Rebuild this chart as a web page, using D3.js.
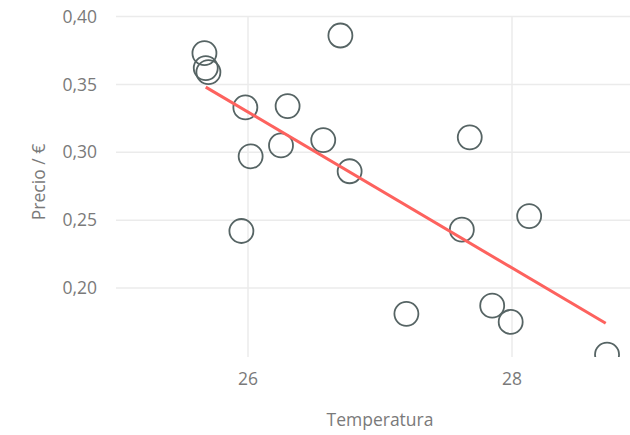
<!DOCTYPE html>
<html><head><meta charset="utf-8">
<script src="https://cdn.jsdelivr.net/npm/d3@7"></script>
<style>
html,body{margin:0;padding:0;background:#fff;}
text{font-family:"Segoe UI","Open Sans","Noto Sans",sans-serif;}
</style></head>
<body>
<svg id="c" width="630" height="435"></svg>
<script>
const temperatura = [25.67, 25.68, 25.70, 25.98, 26.30, 26.02, 26.25, 26.57, 26.70, 26.77, 25.95, 27.68, 27.62, 28.13, 27.20, 27.85, 27.99, 28.72];
const precio      = [0.373, 0.362, 0.359, 0.333, 0.334, 0.297, 0.305, 0.309, 0.386, 0.286, 0.242, 0.311, 0.243, 0.253, 0.181, 0.187, 0.175, 0.151];
const trendX = [25.68, 28.71];
const trendY = [0.348, 0.174];
const xTicks = [26, 28];
const yTicks = [0.20, 0.25, 0.30, 0.35, 0.40];
const xTitle = "Temperatura";
const yTitle = "Precio / €";

const svg = d3.select("#c");
const x = d3.scaleLinear().domain([25, 29]).range([116, 644]);
const y = d3.scaleLinear().domain([0.15, 0.40]).range([355.9, 16.5]);
const plotTop = 16, plotBottom = 357;

svg.append("defs").append("clipPath").attr("id","clip")
  .append("rect").attr("x",116).attr("y",0).attr("width",530).attr("height",plotBottom);

const g = svg.append("g");
g.selectAll(".hg").data(yTicks).join("line")
  .attr("x1",116).attr("x2",644)
  .attr("y1",d=>y(d)).attr("y2",d=>y(d))
  .attr("stroke","#ebebeb").attr("stroke-width",1.5);
g.selectAll(".vg").data(xTicks).join("line")
  .attr("x1",d=>x(d)).attr("x2",d=>x(d))
  .attr("y1",plotTop).attr("y2",plotBottom)
  .attr("stroke","#ebebeb").attr("stroke-width",1.5);

const fmt = d => d3.format(".2f")(d).replace(".", ",");
const fs = 17.5, tc = "#7a7a7a";
svg.selectAll(".yt").data(yTicks).join("text")
  .attr("x",97).attr("y",d=>y(d)).attr("dy","0.35em")
  .attr("text-anchor","end").attr("font-size",fs).attr("fill",tc)
  .text(fmt);
svg.selectAll(".xt").data(xTicks).join("text")
  .attr("x",d=>x(d)).attr("y",379).attr("dy","0.35em")
  .attr("text-anchor","middle").attr("font-size",fs).attr("fill",tc)
  .text(d=>d);

svg.append("text").attr("x",380).attr("y",420).attr("dy","0.35em")
  .attr("text-anchor","middle").attr("font-size",fs).attr("fill",tc).text(xTitle);
svg.append("text").attr("transform","translate(45,182) rotate(-90)")
  .attr("text-anchor","middle").attr("font-size",fs).attr("fill",tc).text(yTitle);

const pts = temperatura.map((t,i)=>({t, p: precio[i]}));
const clipG = svg.append("g").attr("clip-path","url(#clip)");
clipG.selectAll("circle").data(pts).join("circle")
  .attr("cx",d=>x(d.t)).attr("cy",d=>y(d.p)).attr("r",12)
  .attr("fill","none").attr("stroke","#566464").attr("stroke-width",1.8);

clipG.append("line")
  .attr("x1",x(trendX[0])).attr("y1",y(trendY[0]))
  .attr("x2",x(trendX[1])).attr("y2",y(trendY[1]))
  .attr("stroke","#fd625e").attr("stroke-width",3);
</script>
</body></html>
